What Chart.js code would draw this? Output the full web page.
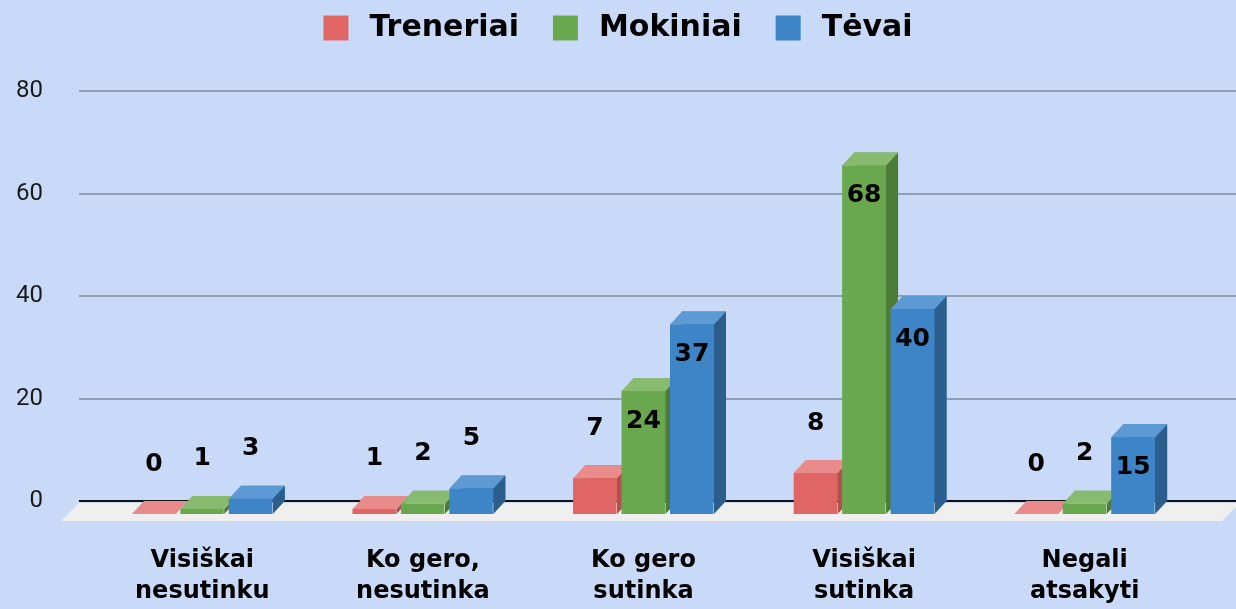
<!DOCTYPE html>
<html>
<head>
<meta charset="utf-8">
<script src="https://cdn.jsdelivr.net/npm/chart.js@4.4.1/dist/chart.umd.min.js"></script>
<style>
  html, body { margin: 0; padding: 0; background: #c9daf8; }
  canvas { display: block; background: #c9daf8; }
</style>
</head>
<body>
<canvas id="c" width="1236" height="609"></canvas>
<script>
// ---- data ----
const categories = [
  ['Visiškai', 'nesutinku'],
  ['Ko gero,', 'nesutinka'],
  ['Ko gero', 'sutinka'],
  ['Visiškai', 'sutinka'],
  ['Negali', 'atsakyti']
];
const seriesNames = ['Treneriai', 'Mokiniai', 'Tėvai'];
const treneriai = [0, 1, 7, 8, 0];
const mokiniai = [1, 2, 24, 68, 2];
const tevai = [3, 5, 37, 40, 15];
const yMin = 0, yMax = 80, yStep = 20;

// ---- style ----
const faces = [
  { front: '#e06666', top: '#ea8b8b', side: '#b24f4f' },
  { front: '#6aa84f', top: '#88bb70', side: '#4d7c38' },
  { front: '#3d85c6', top: '#5d9ad3', side: '#2b5d8d' }
];
const DX = 12, DY = 13;
const boldFamily = "'DejaVu Sans', sans-serif";

const threeD = {
  id: 'threeD',
  beforeDatasetsDraw(chart) {
    const ctx = chart.ctx, ys = chart.scales.y, area = chart.chartArea;
    const left = area.left - 25, right = chart.width;
    const y0 = ys.getPixelForValue(0);
    ctx.save();
    // floor
    ctx.fillStyle = '#efefef';
    ctx.beginPath();
    ctx.moveTo(left, y0 + 2);
    ctx.lineTo(right + 4, y0 + 2);
    ctx.lineTo(right - 14, y0 + 20);
    ctx.lineTo(left - 18, y0 + 20);
    ctx.closePath();
    ctx.fill();
    // grid lines
    ys.ticks.forEach(t => {
      const py = Math.round(ys.getPixelForValue(t.value));
      ctx.strokeStyle = t.value === 0 ? '#111111' : '#919fb6';
      ctx.lineWidth = 2;
      ctx.beginPath();
      ctx.moveTo(left, py);
      ctx.lineTo(right, py);
      ctx.stroke();
    });
    ctx.restore();
  },
  afterDatasetsDraw(chart) {
    const ctx = chart.ctx;
    const n = chart.data.labels.length;
    const labels = [];
    ctx.save();
    for (let i = 0; i < n; i++) {
      chart.data.datasets.forEach((ds, d) => {
        const el = chart.getDatasetMeta(d).data[i];
        const p = el.getProps(['x', 'y', 'base', 'width'], true);
        const l = p.x - p.width / 2, r = p.x + p.width / 2;
        const top = p.y, base = p.base;
        const c = faces[d];
        // side
        ctx.fillStyle = c.side;
        ctx.beginPath();
        ctx.moveTo(r - DX, top + DY);
        ctx.lineTo(r, top);
        ctx.lineTo(r, base);
        ctx.lineTo(r - DX, base + DY);
        ctx.closePath();
        ctx.fill();
        // top
        ctx.fillStyle = c.top;
        ctx.beginPath();
        ctx.moveTo(l - DX, top + DY);
        ctx.lineTo(r - DX, top + DY);
        ctx.lineTo(r, top);
        ctx.lineTo(l, top);
        ctx.closePath();
        ctx.fill();
        // front
        if (base - top > 0) {
          ctx.fillStyle = c.front;
          ctx.fillRect(l - DX, top + DY, p.width - 0.5, base - top);
        }
        const frontTop = top + DY;
        const h = base - top;
        labels.push({
          text: String(ds.data[i]),
          x: p.x - DX,
          y: h > 60 ? frontTop + 30 : frontTop - 50
        });
      });
    }
    ctx.fillStyle = '#000';
    ctx.font = 'bold 25px ' + boldFamily;
    ctx.textAlign = 'center';
    ctx.textBaseline = 'middle';
    labels.forEach(lb => ctx.fillText(lb.text, lb.x, lb.y));
    ctx.restore();
  }
};

const datasets = [treneriai, mokiniai, tevai].map((vals, d) => ({
  label: seriesNames[d],
  data: vals,
  backgroundColor: faces[d].front,
  borderWidth: 0,
  categoryPercentage: 0.659,
  barPercentage: 0.907
}));

new Chart(document.getElementById('c'), {
  type: 'bar',
  data: { labels: categories, datasets },
  options: {
    responsive: false,
    animation: false,
    layout: { padding: { top: 0, right: 0, left: 0, bottom: 0 } },
    plugins: {
      tooltip: { enabled: false },
      title: {
        display: true,
        text: ' ',
        weight: 500,
        color: 'rgba(0,0,0,0)',
        font: { size: 10, lineHeight: 1 },
        padding: { top: 28, bottom: 0 }
      },
      legend: {
        position: 'top',
        labels: {
          boxWidth: 25,
          boxHeight: 25,
          padding: 13,
          color: '#000',
          font: { family: boldFamily, weight: 'bold', size: 30 },
          generateLabels(chart) {
            const items = Chart.defaults.plugins.legend.labels.generateLabels(chart);
            return items.map((it, k) => Object.assign(it, {
              text: '\u2009' + it.text + (k < items.length - 1 ? '  ' : '')
            }));
          }
        }
      }
    },
    scales: {
      x: {
        grid: { display: false, drawTicks: false },
        border: { display: false },
        ticks: {
          color: '#000',
          font: { family: boldFamily, weight: 'bold', size: 24, lineHeight: 1.3 },
          padding: 44,
          labelOffset: -12,
          maxRotation: 0,
          autoSkip: false
        },
        afterFit(s) { s.height = 108; }
      },
      y: {
        min: yMin,
        max: yMax,
        grid: { display: false, drawTicks: false },
        border: { display: false },
        ticks: {
          stepSize: yStep,
          color: '#1a1a1a',
          font: { family: 'Roboto', size: 24 },
          padding: 61
        },
        afterFit(s) { s.width = 104; }
      },
      yRight: {
        type: 'linear',
        position: 'right',
        display: true,
        grid: { display: false, drawTicks: false },
        border: { display: false },
        ticks: { display: false },
        afterFit(s) { s.width = 29; }
      }
    }
  },
  plugins: [threeD]
});
</script>
</body>
</html>
